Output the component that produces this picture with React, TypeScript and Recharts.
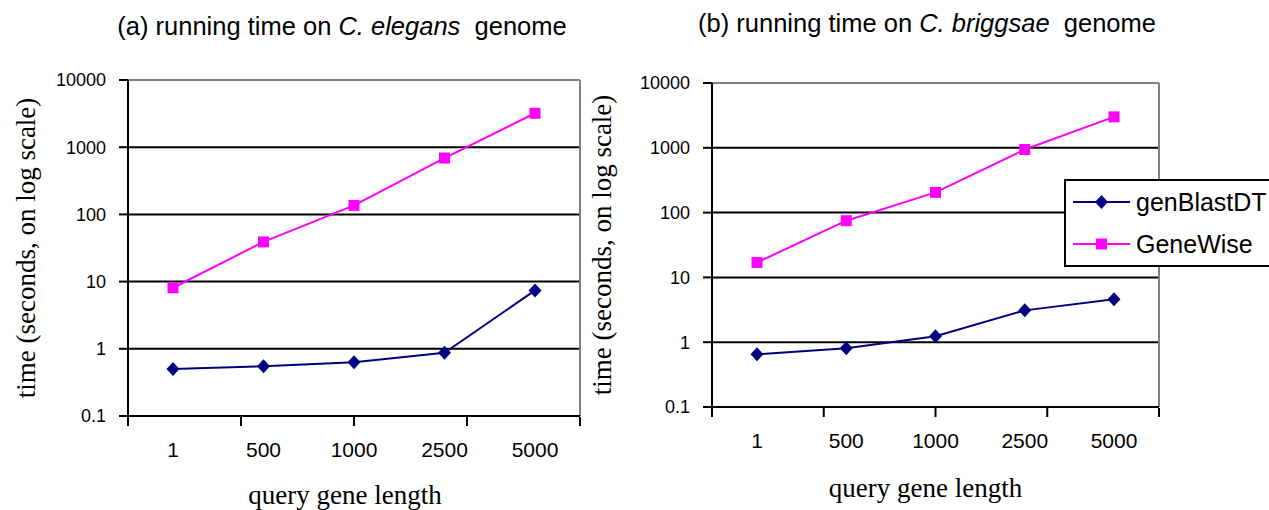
import React from 'react'
import { LineChart, Line, XAxis, YAxis, CartesianGrid, Legend } from 'recharts'

// query gene lengths (categories)
const lengths = ['1', '500', '1000', '2500', '5000']

// (a) C. elegans, seconds
const elegansBlast = [0.5, 0.55, 0.63, 0.87, 7.4]
const elegansWise = [8.1, 39, 136, 690, 3200]

// (b) C. briggsae, seconds
const briggsaeBlast = [0.65, 0.81, 1.24, 3.1, 4.6]
const briggsaeWise = [17, 75, 205, 940, 3000]

const seriesNames = ['genBlastDT', 'GeneWise']
const yTicks = [0.1, 1, 10, 100, 1000, 10000]
const edgeTicks = [0, 1, 2, 3, 4, 5]

const NAVY = '#000080'
const MAGENTA = '#FF00FF'
const GRAY = '#808080'
const SANS = '"Liberation Sans", Arial, sans-serif'
const SERIF = '"Liberation Serif", "Times New Roman", serif'

const Diamond = (props: any) => {
  const { cx, cy } = props
  if (cx == null || cy == null) return null
  return <path d={`M${cx},${cy - 7}L${cx + 6.5},${cy}L${cx},${cy + 7}L${cx - 6.5},${cy}Z`} fill={NAVY} stroke="none" />
}

const Square = (props: any) => {
  const { cx, cy } = props
  if (cx == null || cy == null) return null
  return <rect x={cx - 5.5} y={cy - 5.5} width={11} height={11} fill={MAGENTA} stroke="none" />
}

const YTick = (props: any) => (
  <text x={props.x} y={props.y} dy="0.355em" textAnchor="end" style={{ fontFamily: SANS, fontSize: '18px', fill: '#000' }}>
    {props.payload.value}
  </text>
)

const XTick = (props: any) => (
  <text x={props.x} y={props.y} dy="0.71em" textAnchor="middle" style={{ fontFamily: SANS, fontSize: '21px', fill: '#000' }}>
    {props.payload.value}
  </text>
)

const NoTick = () => <g />

const LegendBox = (props: any) => {
  const items = [...(props.payload || [])].sort(
    (a: any, b: any) => seriesNames.indexOf(a.value) - seriesNames.indexOf(b.value))
  return (
    <div style={{ width: 222, height: 88, border: '2px solid #000', background: '#fff', boxSizing: 'border-box', fontFamily: SANS, fontSize: 25, color: '#000' }}>
      {items.map((p: any) => (
        <div key={p.value} style={{ display: 'flex', alignItems: 'center', height: 42, whiteSpace: 'nowrap' }}>
          <svg width={57} height={20} style={{ marginLeft: 7, flex: 'none' }}>
            <line x1={0} y1={10} x2={57} y2={10} stroke={p.color} strokeWidth={2} />
            {p.value === 'GeneWise'
              ? <rect x={23} y={4.5} width={11} height={11} fill={MAGENTA} />
              : <path d="M28.5,3L35,10L28.5,17L22,10Z" fill={NAVY} />}
          </svg>
          <span style={{ marginLeft: 6 }}>{p.value}</span>
        </div>
      ))}
    </div>
  )
}

const yTitle = (dx: number) => (props: any) => {
  const vb = props.viewBox
  const cx = vb.x + dx
  const cy = vb.y + vb.height / 2
  return (
    <text x={cx} y={cy} transform={`rotate(-90 ${cx} ${cy})`} textAnchor="middle" dominantBaseline="central"
      style={{ fontFamily: SERIF, fontSize: '27px', fill: '#000' }}>
      time (seconds, on log scale)
    </text>
  )
}

const xTitle = (dx: number, dy: number) => (props: any) => {
  const vb = props.viewBox
  return (
    <text x={vb.x + vb.width / 2 + dx} y={vb.y + dy} textAnchor="middle"
      style={{ fontFamily: SERIF, fontSize: '27px', fill: '#000' }}>
      query gene length
    </text>
  )
}

interface PanelProps {
  left: number
  width: number
  margin: { top: number; right: number; bottom: number; left: number }
  blast: number[]
  wise: number[]
  yTitleDx: number
  xTitleDx: number
  xTitleDy: number
  legend?: boolean
}

function Panel({ left, width, margin, blast, wise, yTitleDx, xTitleDx, xTitleDy, legend }: PanelProps) {
  const data = lengths.map((len, i) => ({ len, genBlastDT: blast[i], GeneWise: wise[i] }))
  return (
    <div style={{ position: 'absolute', left, top: 0 }}>
      <LineChart width={width} height={510} data={data} margin={margin}>
        <CartesianGrid vertical={false} stroke="#000" strokeWidth={2} />
        <XAxis xAxisId="top" orientation="top" type="number" domain={[0, 1]} height={1}
          tick={false} tickLine={false} axisLine={{ stroke: GRAY, strokeWidth: 2 }} />
        <YAxis yAxisId="right" orientation="right" type="number" domain={[0, 1]} width={1}
          tick={false} tickLine={false} axisLine={{ stroke: GRAY, strokeWidth: 2 }} />
        <XAxis dataKey="len" height={1} padding={{ left: 45, right: 45 }} interval={0}
          tickLine={false} tickSize={0} tickMargin={26} tick={<XTick />}
          axisLine={{ stroke: '#000', strokeWidth: 2 }}
          label={xTitle(xTitleDx, xTitleDy)} />
        <XAxis xAxisId="edges" type="number" domain={[0, 5]} ticks={edgeTicks} height={1} interval={0}
          tick={<NoTick />} tickSize={9} tickLine={{ stroke: '#000', strokeWidth: 2 }} axisLine={false} />
        <YAxis scale="log" type="number" domain={[0.1, 10000]} ticks={yTicks} allowDataOverflow width={70}
          tickSize={9} tickMargin={13} tick={<YTick />}
          tickLine={{ stroke: '#000', strokeWidth: 2 }} axisLine={{ stroke: '#000', strokeWidth: 2 }}
          label={yTitle(yTitleDx)} />
        {legend && (
          <Legend layout="horizontal" verticalAlign="middle" align="center" content={<LegendBox />}
            wrapperStyle={{ left: 504, top: 179, width: 222, height: 88 }} />
        )}
        <Line type="linear" dataKey="genBlastDT" name="genBlastDT" stroke={NAVY} strokeWidth={2}
          dot={<Diamond />} activeDot={false} isAnimationActive={false} />
        <Line type="linear" dataKey="GeneWise" name="GeneWise" stroke={MAGENTA} strokeWidth={2}
          dot={<Square />} activeDot={false} isAnimationActive={false} />
      </LineChart>
    </div>
  )
}

const titleStyle: React.CSSProperties = {
  position: 'absolute', fontFamily: SANS, fontSize: 25.5, lineHeight: 1, whiteSpace: 'pre', color: '#000',
  transform: 'translateX(-50%)',
}

export default function App() {
  return (
    <div style={{ position: 'absolute', left: 0, top: 0, width: 1269, height: 510, overflow: 'hidden', background: '#fff' }}>
      <Panel left={0} width={600} margin={{ top: 79, right: 19, bottom: 92, left: 58 }}
        blast={elegansBlast} wise={elegansWise} yTitleDx={-32} xTitleDx={-9} xTitleDy={88} />
      <Panel left={560} width={620} margin={{ top: 82, right: 20, bottom: 101, left: 82 }}
        blast={briggsaeBlast} wise={briggsaeWise} yTitleDx={-40} xTitleDx={-10} xTitleDy={90} legend />
      <div style={{ ...titleStyle, left: 342, top: 14 }}>
        (a) running time on <i>C. elegans</i>  genome
      </div>
      <div style={{ ...titleStyle, left: 927, top: 11 }}>
        (b) running time on <i>C. briggsae</i>  genome
      </div>
    </div>
  )
}
